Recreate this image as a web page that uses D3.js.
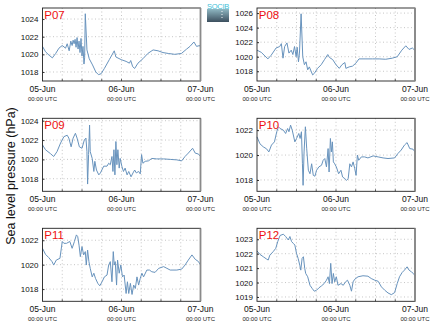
<!DOCTYPE html>
<html>
<head>
<meta charset="utf-8">
<script src="https://cdn.jsdelivr.net/npm/d3@7"></script>
<style>
  html, body { margin: 0; padding: 0; background: #fff; }
  svg { display: block; font-family: "Liberation Sans", Arial, sans-serif; }
</style>
</head>
<body>
<svg id="chart" width="435" height="327"></svg>
<script>
// Sea level pressure at six stations, 05-Jun 00:00 UTC to 07-Jun 00:00 UTC.
// Each point is [hours since 05-Jun 00:00 UTC, pressure in hPa].
const p07 = [[0,1020.9],[0.9,1020.3],[2,1019.9],[3,1019.6],[4,1020.1],[5,1020.7],[6,1021.0],[7,1020.7],[7.5,1021.2],[8.1,1020.4],[8.6,1021.5],[9.0,1021.0],[9.3,1021.6],[9.6,1021.2],[9.9,1021.7],[10.2,1020.8],[10.5,1021.9],[10.8,1020.6],[11.1,1021.5],[11.4,1020.2],[11.7,1021.8],[12.0,1019.8],[12.3,1020.9],[12.6,1018.9],[12.8,1019.6],[13.0,1024.6],[13.5,1020.5],[14.2,1019.5],[15.2,1018.8],[16.2,1018.0],[17.0,1017.7],[17.8,1017.8],[18.8,1018.4],[20.3,1019.4],[21.8,1020.4],[22.3,1019.7],[23.9,1019.4],[25.4,1019.2],[26.4,1019.0],[26.8,1019.3],[27.4,1018.6],[28.0,1018.4],[29.0,1019.0],[30.5,1019.5],[32.0,1020.1],[33.6,1020.5],[35.1,1020.4],[36.6,1020.2],[38.2,1020.1],[40.2,1020.0],[42.2,1020.1],[43.8,1020.6],[44.8,1020.9],[46.0,1021.4],[46.8,1020.9],[47.8,1021.0],[48,1020.8]];
const p08 = [[0,1020.9],[1.3,1020.6],[3.3,1019.7],[4.3,1020.2],[5.8,1021.2],[6.9,1021.4],[7.4,1021.8],[7.9,1019.8],[8.4,1021.4],[9.1,1021.9],[9.7,1020.5],[10.4,1020.9],[10.9,1020.3],[11.4,1021.4],[11.9,1020.0],[12.2,1021.3],[12.6,1019.3],[12.9,1020.5],[13.4,1025.9],[13.9,1020.0],[14.4,1018.9],[14.9,1019.3],[15.4,1018.2],[15.9,1018.6],[16.9,1017.5],[17.4,1017.7],[18.4,1018.4],[19.5,1018.9],[20.5,1019.6],[21.5,1020.3],[22.0,1019.9],[23.0,1019.6],[24.0,1018.9],[25.0,1018.4],[25.8,1018.9],[26.7,1019.2],[27.0,1018.4],[28.0,1018.6],[29.0,1018.7],[30.0,1019.1],[31.0,1019.7],[33.1,1019.7],[35.1,1019.7],[37.1,1019.7],[39.1,1019.65],[41.1,1019.8],[42.6,1020.0],[44.0,1020.9],[45.2,1021.5],[46.2,1021.0],[47.2,1021.2],[48,1020.85]];
const p09 = [[0,1021.5],[0.9,1021.0],[2.4,1020.6],[3.4,1020.3],[4.4,1020.8],[5.5,1021.7],[6.5,1022.35],[7.5,1022.5],[8.0,1022.2],[8.7,1021.3],[9.3,1022.2],[10.0,1022.7],[10.5,1022.2],[11.2,1021.3],[12.0,1021.15],[12.7,1022.0],[13.2,1022.2],[13.5,1020.8],[13.7,1017.45],[14.0,1020.5],[14.3,1023.55],[14.5,1020.8],[15.1,1020.1],[15.6,1018.75],[15.9,1019.8],[16.4,1018.9],[17.1,1018.4],[17.6,1018.6],[18.6,1019.3],[19.6,1019.3],[20.1,1019.6],[20.6,1019.45],[21.1,1020.3],[21.4,1018.75],[21.7,1021.0],[22.0,1018.4],[22.3,1021.85],[22.6,1019.45],[22.9,1021.0],[23.3,1019.1],[23.6,1020.1],[24.1,1019.3],[24.6,1018.75],[25.1,1019.1],[25.7,1018.4],[26.2,1018.75],[26.9,1018.2],[27.5,1018.6],[28.0,1018.9],[28.5,1018.6],[29.2,1018.75],[29.7,1018.5],[30.1,1020.5],[30.5,1019.6],[31.2,1019.8],[32.2,1019.85],[33.2,1020.1],[34.7,1020.05],[36.8,1020.05],[38.8,1020.0],[40.8,1019.95],[42.3,1019.85],[43.3,1020.3],[44.3,1020.65],[45.6,1021.15],[46.4,1020.65],[47.4,1020.55],[48,1020.3]];
const p10 = [[0,1021.46],[0.9,1020.9],[1.9,1020.66],[2.9,1020.5],[3.6,1020.25],[4.4,1020.8],[5.3,1021.06],[6.0,1021.87],[6.5,1022.27],[7.0,1022.13],[8.0,1022.0],[8.7,1021.73],[9.3,1022.13],[9.7,1021.87],[10.2,1022.4],[10.7,1022.0],[11.5,1021.06],[12.0,1021.33],[12.7,1021.73],[13.1,1021.33],[13.5,1021.87],[13.8,1019.3],[14.0,1017.57],[14.3,1020.25],[14.7,1022.27],[15.1,1020.5],[15.6,1018.78],[16.1,1018.5],[16.6,1019.3],[17.1,1018.37],[17.6,1018.3],[18.1,1018.78],[18.8,1019.05],[19.6,1019.18],[20.1,1019.58],[20.6,1019.72],[21.1,1019.05],[21.6,1020.52],[21.9,1018.64],[22.3,1021.33],[22.6,1020.25],[22.9,1021.06],[23.2,1019.45],[23.6,1019.3],[24.1,1019.05],[24.8,1018.5],[25.5,1018.78],[26.0,1018.24],[26.7,1018.1],[27.2,1017.97],[27.7,1018.1],[28.2,1019.3],[28.7,1019.05],[29.2,1019.45],[29.7,1018.9],[30.1,1018.37],[30.5,1020.0],[30.9,1019.58],[31.7,1019.85],[32.7,1019.85],[33.7,1019.77],[35.3,1019.93],[36.8,1019.85],[38.3,1019.77],[39.8,1019.72],[41.8,1019.77],[42.8,1020.12],[43.8,1020.4],[44.8,1020.8],[45.6,1021.0],[46.4,1020.52],[47.4,1020.47],[48,1020.25]];
const p11 = [[0,1021.34],[0.9,1020.85],[1.9,1020.58],[2.9,1020.25],[3.4,1019.97],[4.2,1020.38],[5.3,1020.52],[6.0,1021.9],[6.5,1021.75],[7.3,1021.75],[8.3,1021.9],[9.0,1021.34],[9.7,1021.9],[10.3,1022.44],[10.7,1022.3],[11.1,1021.6],[11.5,1020.66],[12.0,1021.48],[12.5,1020.8],[13.0,1021.07],[13.3,1019.97],[13.7,1021.2],[14.1,1020.25],[14.5,1019.7],[15.1,1019.0],[15.6,1019.3],[16.1,1018.88],[16.8,1018.47],[17.4,1018.27],[18.1,1018.6],[18.8,1019.0],[19.6,1019.15],[20.1,1019.97],[20.6,1020.25],[21.1,1018.6],[21.5,1021.07],[21.8,1019.97],[22.1,1020.25],[22.5,1018.33],[22.8,1020.38],[23.3,1019.3],[23.8,1019.97],[24.3,1019.0],[24.8,1019.15],[25.4,1017.64],[25.8,1018.6],[26.2,1017.64],[26.7,1018.47],[27.2,1017.56],[27.7,1018.33],[28.2,1018.05],[28.7,1019.0],[29.2,1018.33],[29.7,1018.88],[30.2,1019.3],[30.7,1019.0],[31.7,1019.56],[32.5,1019.56],[33.2,1019.42],[34.2,1019.37],[35.3,1019.7],[36.8,1019.84],[37.8,1019.7],[38.8,1019.56],[40.8,1019.56],[42.3,1019.64],[43.3,1019.97],[44.3,1020.38],[45.4,1020.8],[46.4,1020.44],[47.4,1020.25],[48,1019.97]];
const p12 = [[0,1022.19],[0.9,1021.95],[1.9,1021.79],[2.9,1021.63],[3.4,1021.56],[3.9,1021.9],[4.9,1022.14],[5.7,1022.37],[6.3,1022.84],[7.0,1023.26],[8.0,1023.35],[8.7,1023.19],[9.5,1022.95],[10.0,1023.19],[10.5,1022.84],[11.0,1022.72],[11.5,1022.6],[12.0,1022.02],[12.5,1021.67],[13.0,1021.2],[13.3,1020.86],[13.7,1021.67],[14.1,1021.79],[14.5,1020.98],[14.8,1020.63],[15.4,1020.4],[16.1,1019.81],[16.8,1019.58],[17.4,1019.4],[18.1,1019.47],[18.8,1019.63],[19.6,1019.77],[20.4,1019.93],[21.1,1020.16],[21.6,1020.4],[22.0,1019.93],[22.4,1021.33],[22.8,1019.93],[23.2,1020.63],[23.6,1020.05],[24.1,1020.4],[24.6,1019.81],[25.5,1019.93],[26.2,1019.81],[26.9,1020.05],[27.5,1020.16],[28.2,1019.81],[28.7,1019.4],[29.2,1020.05],[29.7,1020.23],[30.7,1020.4],[32.2,1020.47],[33.7,1020.44],[34.7,1020.28],[35.8,1020.16],[36.8,1020.09],[37.8,1019.7],[38.8,1019.47],[39.8,1019.28],[40.8,1019.16],[41.8,1019.3],[42.6,1019.93],[43.3,1020.4],[44.1,1020.7],[44.8,1020.86],[45.6,1021.09],[46.2,1020.86],[46.9,1020.74],[47.5,1020.63],[48,1020.47]];

const stations = ["P07", "P08", "P09", "P10", "P11", "P12"];
const seriesList = [p07, p08, p09, p10, p11, p12];
const yDomains = [[1016.98, 1025.25], [1016.66, 1026.7], [1016.7, 1024.25], [1017.09, 1022.95], [1017.0, 1022.98], [1018.7, 1023.76]];
const yTicks = [[1018, 1020, 1022, 1024], [1018, 1020, 1022, 1024, 1026], [1018, 1020, 1022, 1024], [1018, 1020, 1022], [1018, 1020, 1022], [1019, 1020, 1021, 1022, 1023]];
const xTickHours = [0, 24, 48];
const xTickLabels = ["05-Jun", "06-Jun", "07-Jun"];
const xTickSub = "00:00 UTC";
const gridHours = [6, 12, 18, 24, 30, 36, 42];

const svg = d3.select("#chart");

// Panel geometry (two columns, three rows)
const colX = [42.5, 257];
const rowY = [8, 118.3, 228.3];
const pw = 158, ph = 73;

stations.forEach((name, i) => {
  const col = i % 2, row = Math.floor(i / 2);
  const x0 = colX[col], y0 = rowY[row];
  const g = svg.append("g").attr("transform", `translate(${x0},${y0})`);

  const x = d3.scaleLinear().domain([0, 48]).range([0, pw]);
  const y = d3.scaleLinear().domain(yDomains[i]).range([ph, 0]);

  // dotted grid
  g.append("g").selectAll("line").data(gridHours).join("line")
    .attr("x1", d => x(d)).attr("x2", d => x(d))
    .attr("y1", 0).attr("y2", ph)
    .attr("stroke", "#b8b8b8").attr("stroke-width", 0.8).attr("stroke-dasharray", "1,2.5");
  g.append("g").selectAll("line").data(yTicks[i]).join("line")
    .attr("x1", 0).attr("x2", pw)
    .attr("y1", d => y(d)).attr("y2", d => y(d))
    .attr("stroke", "#b8b8b8").attr("stroke-width", 0.8).attr("stroke-dasharray", "1,2.5");

  // pressure series
  const line = d3.line().x(d => x(d[0])).y(d => y(d[1]));
  g.append("path").datum(seriesList[i])
    .attr("d", line).attr("fill", "none")
    .attr("stroke", "#6893bd").attr("stroke-width", 1).attr("stroke-linejoin", "round");

  // y axis labels and inner ticks
  const yAxis = d3.axisLeft(y).tickValues(yTicks[i]).tickSize(-2).tickPadding(4).tickFormat(d3.format("d"));
  const ya = g.append("g").call(yAxis);
  ya.select(".domain").remove();
  ya.selectAll("text").attr("font-size", 8).attr("fill", "#111").attr("font-family", "Liberation Sans, Arial, sans-serif");
  ya.selectAll("line").attr("stroke", "#333");

  // x axis: small inner ticks at every 6 hours
  g.append("g").selectAll("line").data(gridHours).join("line")
    .attr("x1", d => x(d)).attr("x2", d => x(d))
    .attr("y1", ph).attr("y2", ph - 2).attr("stroke", "#333").attr("stroke-width", 0.8);

  const xl = g.append("g").selectAll("g").data(xTickHours).join("g")
    .attr("transform", d => `translate(${x(d)},${ph})`);
  xl.append("text").attr("y", 11).attr("text-anchor", "middle")
    .attr("font-size", 8.5).attr("fill", "#111")
    .text((d, k) => xTickLabels[k]);
  xl.append("text").attr("y", 19.6).attr("text-anchor", "middle")
    .attr("font-size", 6).attr("fill", "#222")
    .text(xTickSub);

  // frame
  g.append("rect").attr("x", 0).attr("y", 0).attr("width", pw).attr("height", ph)
    .attr("fill", "none").attr("stroke", "#222").attr("stroke-width", 0.9);
  g.append("line").attr("x1", pw).attr("x2", pw).attr("y1", 0).attr("y2", ph)
    .attr("stroke", "#8a8a8a").attr("stroke-width", 1.8);

  // station label
  g.append("text").attr("x", 1.8).attr("y", 11)
    .attr("font-size", 11.5).attr("fill", "#ee1111")
    .text(name);
});

// shared y-axis title
svg.append("text")
  .attr("transform", "translate(15,176) rotate(-90)")
  .attr("text-anchor", "middle")
  .attr("font-size", 12.5).attr("fill", "#111")
  .text("Sea level pressure (hPa)");

// SOCIB badge
const defs = svg.append("defs");
const grad = defs.append("linearGradient").attr("id", "badge").attr("x1", 0).attr("x2", 0).attr("y1", 0).attr("y2", 1);
grad.append("stop").attr("offset", "0%").attr("stop-color", "#8fb7c2");
grad.append("stop").attr("offset", "100%").attr("stop-color", "#3c4f5e");
svg.append("rect").attr("x", 207).attr("y", 9).attr("width", 22).attr("height", 13).attr("fill", "url(#badge)");
svg.append("g").selectAll("circle").data([11.5, 14.5, 17.5]).join("circle")
  .attr("cx", 222).attr("cy", d => d).attr("r", 0.6).attr("fill", "#fff");
svg.append("text").attr("x", 218).attr("y", 9).attr("text-anchor", "middle")
  .attr("font-size", 7.5).attr("fill", "#3cc0d8").attr("letter-spacing", -0.3)
  .text("SOCIB");
</script>
</body>
</html>
